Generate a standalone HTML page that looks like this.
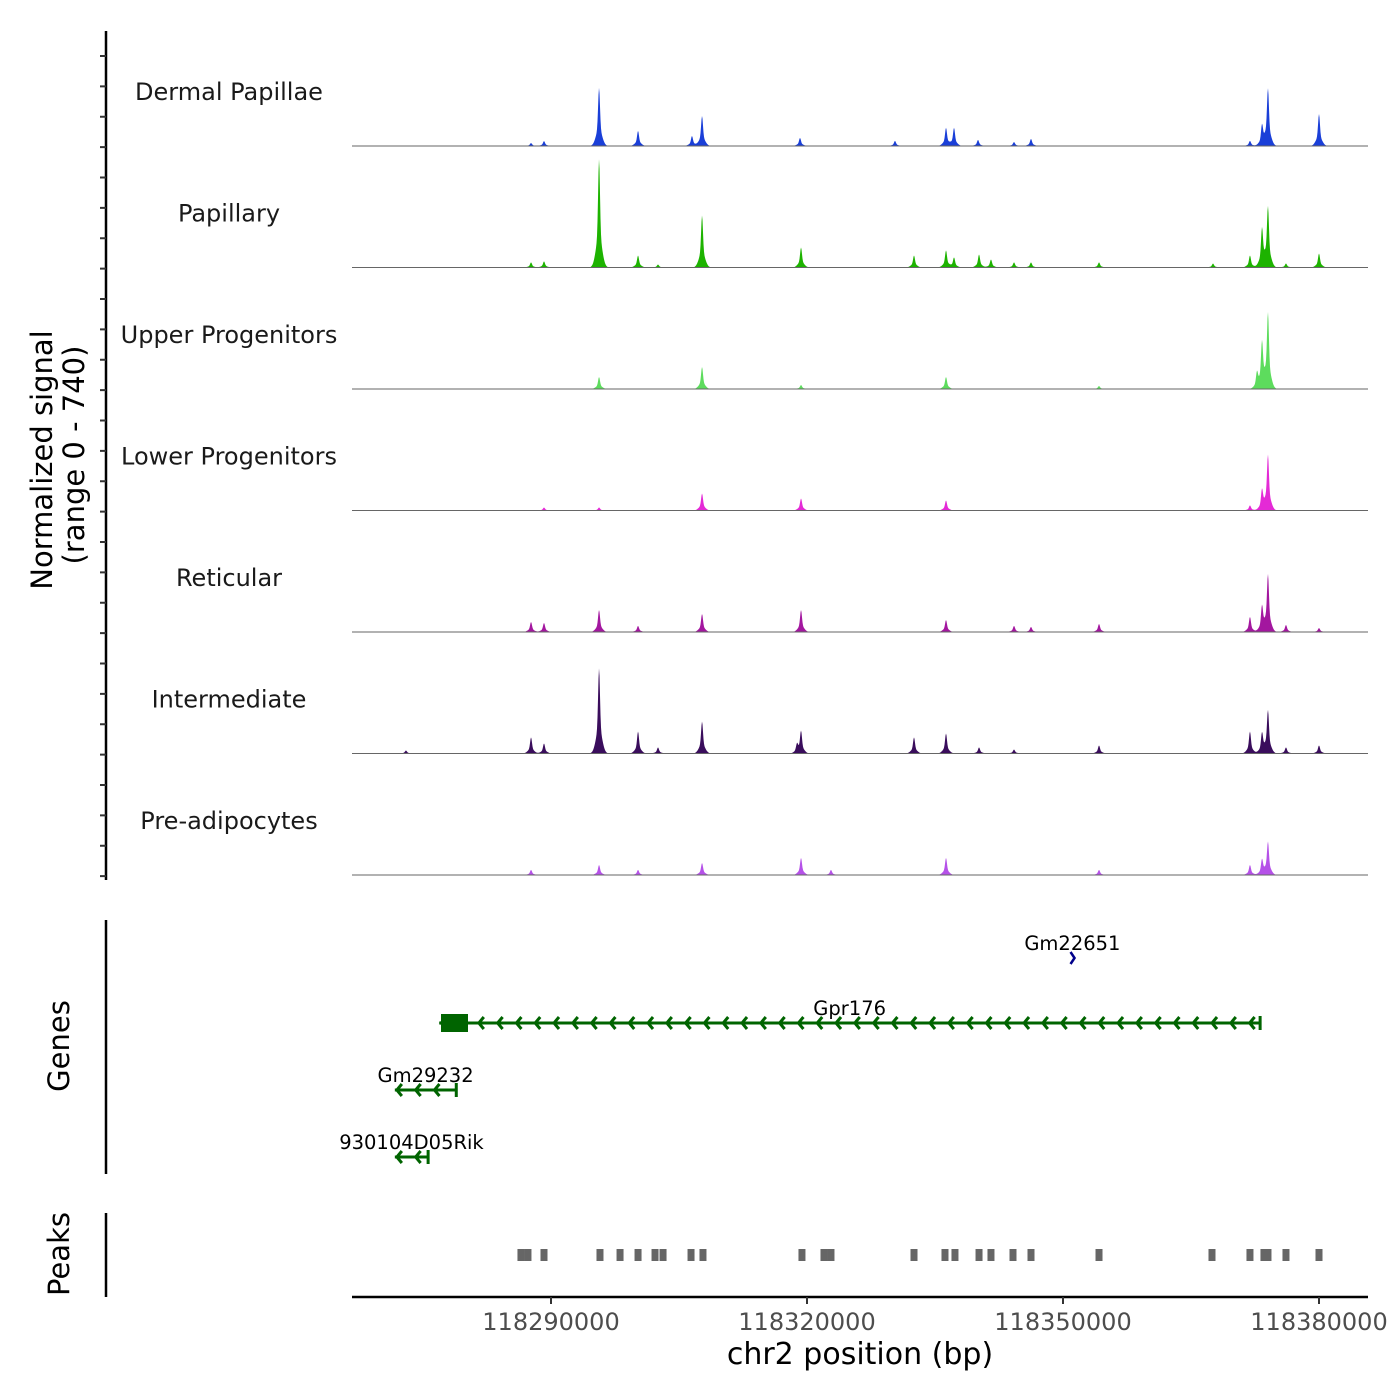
<!DOCTYPE html>
<html><head><meta charset="utf-8"><style>
html,body{margin:0;padding:0;background:#fff;}
svg{display:block;font-family:"DejaVu Sans","Liberation Sans",sans-serif;}
</style></head><body>
<svg id="chart" width="1400" height="1400" viewBox="0 0 1400 1400" xmlns="http://www.w3.org/2000/svg"></svg>
<script>
// ---- data ----
const trackNames = ["Dermal Papillae","Papillary","Upper Progenitors","Lower Progenitors","Reticular","Intermediate","Pre-adipocytes"];
const trackColors = ["#1a3fd8","#1db300","#5ddc5d","#e42ad6","#a3179f","#3a0d5c","#b551e8"];
const peakPositionsKb = {
  "Dermal Papillae": [ -2.34,-0.82,5.63,10.2,16.52,17.7,29.18,40.31,46.29,47.23,50.04,54.26,56.25,81.91,83.32,84.02,90.0],
  "Papillary": [-2.34,-0.82,5.63,10.2,12.54,17.7,29.3,42.54,46.29,47.23,50.16,51.56,54.26,56.25,64.22,77.58,81.91,83.32,84.02,86.13,90.0],
  "Upper Progenitors": [5.63,17.7,29.3,46.29,64.22,82.73,83.32,84.02],
  "Lower Progenitors": [-0.82,5.63,17.7,29.3,46.29,81.91,83.32,84.02],
  "Reticular": [-2.34,-0.82,5.63,10.2,17.7,29.3,46.29,54.26,56.25,64.22,81.91,83.32,84.02,86.13,90.0],
  "Intermediate": [-17.0,-2.34,-0.82,5.63,10.2,12.54,17.7,28.83,29.3,42.54,46.29,50.16,54.26,64.22,81.91,83.32,84.02,86.13,90.0],
  "Pre-adipocytes": [-2.34,5.63,10.2,17.7,29.3,32.81,46.29,64.22,81.91,83.32,84.02]
};
const peakSignal = {
  "Dermal Papillae": [18,30,354,92,61,183,49,31,110,110,37,24,43,31,122,348,195],
  "Papillary": [31,37,660,73,18,317,122,73,104,61,79,49,31,31,31,24,73,232,366,24,85],
  "Upper Progenitors": [73,134,24,73,18,92,275,458],
  "Lower Progenitors": [18,18,104,73,61,31,122,336],
  "Reticular": [61,55,134,37,110,134,73,37,31,49,92,153,348,43,24],
  "Intermediate": [18,98,61,519,134,37,195,49,134,98,122,37,24,49,134,122,262,37,49],
  "Pre-adipocytes": [31,61,31,73,104,31,104,31,61,92,201]
};
const xTickLabels = ["118290000","118320000","118350000","118380000"];
const xTickValues = [118290000,118320000,118350000,118380000];
const peakRegionsKb = [-3.52,-2.70,-0.82,5.74,8.09,10.2,12.19,13.13,16.41,17.81,29.41,31.99,32.81,42.54,46.17,47.34,50.16,51.56,54.14,56.25,64.22,77.46,81.91,83.55,84.02,86.13,90.0];
const geneNames = ["Gm22651","Gpr176","Gm29232","930104D05Rik"];
const geneStartsKb = [61.0,-13.1,-18.3,-18.3];
const geneEndsKb = [61.2,83.1,-11.1,-14.4];
const geneStrands = ["+","-","-","-"];
const geneColors = ["#00008b","#006400","#006400","#006400"];
const geneRows = [958,1023,1090,1157];
const signalMax = 740;

// ---- scales ----
const X0 = 352, X1 = 1368;
const ORIGIN = 118290000, PXPERBP = 256/30000;
function xScale(bp){ return 551 + (bp-ORIGIN)*PXPERBP; }
function xKb(kb){ return xScale(ORIGIN + kb*1000); }
const trackH = 121.5;
function baseline(i){ return 146 + i*trackH; }
function yScale(i,v){ return baseline(i) - v/signalMax*trackH; }

const svg = document.getElementById('chart');
const NS = "http://www.w3.org/2000/svg";
function mk(tag, attrs, parent){
  const e = document.createElementNS(NS, tag);
  for (const k in attrs) e.setAttribute(k, attrs[k]);
  (parent||svg).appendChild(e); return e;
}

let g = mk('g',{});


mk('line',{x1:106,y1:31,x2:106,y2:880,stroke:'#000','stroke-width':2.5},g);
for (let t=0;t<28;t++){
  const y = 56 + t*trackH/4;
  mk('line',{x1:100,y1:y,x2:106,y2:y,stroke:'#333','stroke-width':2},g);
}
let tt = mk('text',{x:0,y:0,'font-size':29,'text-anchor':'middle',fill:'#000',transform:'translate(52,460) rotate(-90)'});
tt.textContent = 'Normalized signal';


tt = mk('text',{x:0,y:0,'font-size':29,'text-anchor':'middle',fill:'#000',transform:'translate(84,455) rotate(-90)'});
tt.textContent = '(range 0 - 740)';



trackNames.forEach((name,i)=>{
  const tg = mk('g',{});
  
  
  const lab = mk('text',{x:229,y:baseline(i)-46,'font-size':24,'text-anchor':'middle',fill:'#1a1a1a'},tg);
  lab.textContent = name;
  
  
  const pos = peakPositionsKb[name], val = peakSignal[name];
  let d = 'M'+X0+','+baseline(i);
  for (let px=X0; px<=X1; px+=0.5){
    let v = 0;
    for (let k=0;k<pos.length;k++){
      const dx = px - xKb(pos[k]);
      v += val[k]*(0.7*Math.exp(-dx*dx/(2*0.9*0.9)) + 0.3*Math.exp(-dx*dx/(2*3*3)));
    }
    d += ' L'+px+','+yScale(i,Math.min(v,signalMax)).toFixed(2);
  }
  d += ' L'+X1+','+baseline(i)+' Z';
  const p = mk('path',{d:d,fill:trackColors[i],stroke:'none'},tg);
  
  
  mk('line',{x1:X0,y1:baseline(i),x2:X1,y2:baseline(i),stroke:'#666','stroke-width':1},tg);
});

g = mk('g',{});


mk('line',{x1:106,y1:920,x2:106,y2:1174,stroke:'#000','stroke-width':2.5},g);
tt = mk('text',{x:0,y:0,'font-size':29,'text-anchor':'middle',fill:'#000',transform:'translate(69,1046) rotate(-90)'},g);
tt.textContent='Genes';
geneNames.forEach((n,i)=>{
  const gg = mk('g',{},g);
  
  
  const xa = xKb(geneStartsKb[i]), xb = xKb(geneEndsKb[i]), y = geneRows[i], c = geneColors[i];
  const lab = mk('text',{x:(xa+xb)/2,y:y-8,'font-size':19.5,'text-anchor':'middle',fill:'#000'},gg);
  lab.textContent = n;
  if (xb-xa < 8){
    mk('path',{d:`M${xa-1},${y-6} L${xa+3},${y} L${xa-1},${y+6}`,fill:'none',stroke:c,'stroke-width':2.5},gg);
    return;
  }
  mk('line',{x1:xa,y1:y,x2:xb,y2:y,stroke:c,'stroke-width':3},gg);
  mk('line',{x1:xb,y1:y-7,x2:xb,y2:y+7,stroke:c,'stroke-width':3},gg);
  for (let ax=xa+2; ax<xb-4; ax+=18.8){
    mk('path',{d:`M${ax+5},${y-6} L${ax},${y} L${ax+5},${y+6}`,fill:'none',stroke:c,'stroke-width':3},gg);
  }
});
mk('rect',{x:441,y:1014,width:27,height:18,fill:'#006400'},g);

g = mk('g',{});


mk('line',{x1:106,y1:1213,x2:106,y2:1297,stroke:'#000','stroke-width':2.5},g);
tt = mk('text',{x:0,y:0,'font-size':29,'text-anchor':'middle',fill:'#000',transform:'translate(69,1254) rotate(-90)'},g);
tt.textContent='Peaks';
peakRegionsKb.forEach(kb=>{
  const r = mk('rect',{x:xKb(kb)-3.5,y:1249,width:7,height:12,fill:'#666'},g);
  
  
});

g = mk('g',{});


mk('line',{x1:X0,y1:1297,x2:X1,y2:1297,stroke:'#000','stroke-width':2.5},g);
xTickValues.forEach((v,i)=>{
  const x = xScale(v);
  mk('line',{x1:x,y1:1297,x2:x,y2:1304,stroke:'#333','stroke-width':2},g);
  const t = mk('text',{x:x,y:1330,'font-size':24,'text-anchor':'middle',fill:'#4d4d4d'},g);
  t.textContent = xTickLabels[i];
  
  
});
tt = mk('text',{x:860,y:1364,'font-size':30,'text-anchor':'middle',fill:'#000'},g);
tt.textContent='chr2 position (bp)';


</script>
</body></html>
